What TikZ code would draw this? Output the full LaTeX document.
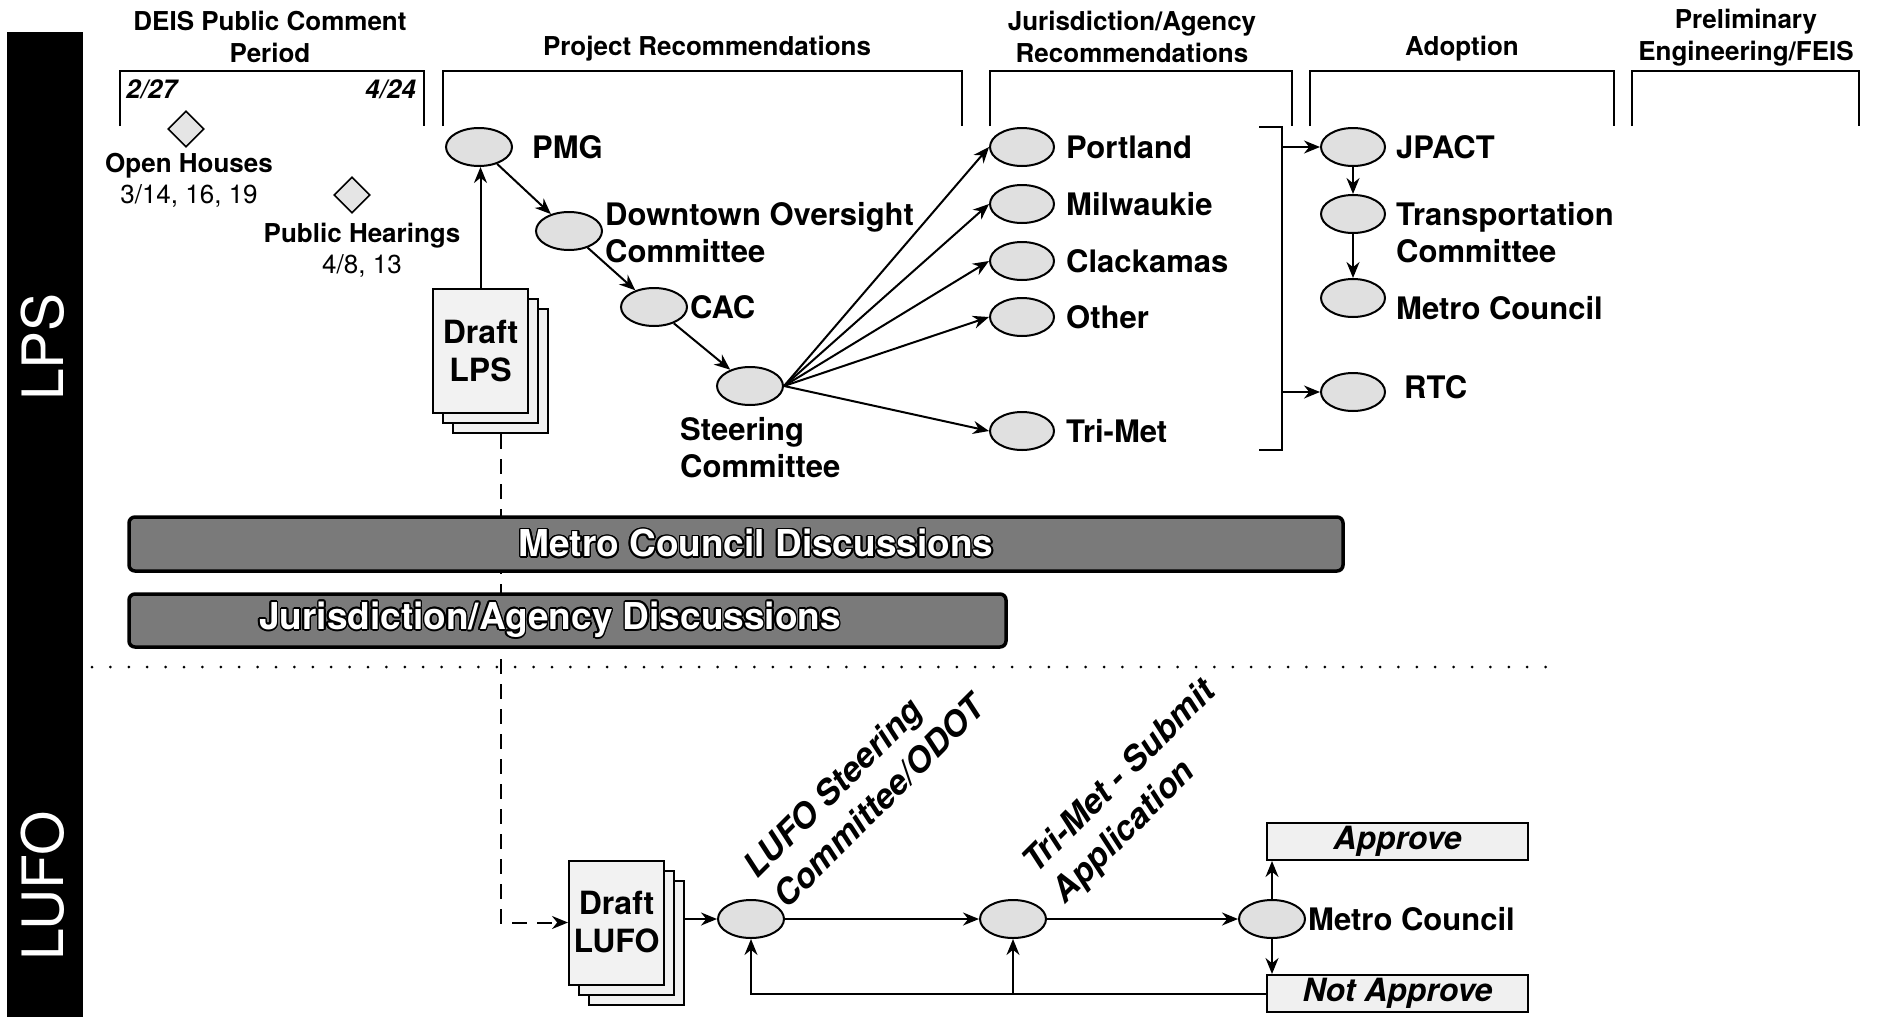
\documentclass[tikz,border=0pt]{standalone}
\usepackage{fontspec}
\setmainfont{TeX Gyre Heros}
\usepackage{contour}
\contourlength{1.6pt}
\usetikzlibrary{arrows.meta,shapes.geometric,calc}

\begin{document}
\begin{tikzpicture}[x=1pt,y=-1pt,
  lbl/.style={font=\fontsize{31}{37}\selectfont\bfseries, inner sep=0, align=left, anchor=west},
  hdr/.style={font=\fontsize{26}{32}\selectfont\bfseries, inner sep=0, align=center},
  slant/.style={font=\fontsize{34}{42}\selectfont\bfseries\itshape, inner sep=0, align=left, rotate=45, anchor=south west},
  oval/.style={ellipse, draw, line width=2pt, fill=black!12, minimum width=66, minimum height=38, inner sep=0},
  arr/.style={line width=2pt, -{Stealth[length=16pt,width=13pt]}},
  bracket/.style={line width=2pt},
  page/.style={rectangle, draw, line width=2pt, fill=black!5, minimum width=95, minimum height=124, inner sep=0},
  bar/.style={draw, line width=3.5pt, rounded corners=6pt, fill=black!52, inner sep=0},
  bartext/.style={font=\fontsize{37}{37}\selectfont\bfseries, inner sep=0, text=white},
  evt/.style={diamond, draw, line width=1.6pt, fill=black!10, minimum width=36, minimum height=36, inner sep=0},
  verdict/.style={rectangle, draw, line width=2pt, fill=black!6, minimum width=261, minimum height=37, inner sep=0, font=\fontsize{32}{32}\selectfont\bfseries\itshape},
  bandtext/.style={rotate=90, text=white, inner sep=0, font=\fontsize{57}{57}\selectfont}
]
\fill[white] (0,0) rectangle (1878,1017);
\useasboundingbox (0,0) rectangle (1878,1017);

% side band
\fill[black] (7,32) rectangle (83,1017);
\node[bandtext] (lpsband) at (43,347) {LPS};
\node[bandtext] (lufoband) at (43,886) {LUFO};

% phase headers and brackets
\node[hdr] (h1) at (270,37) {DEIS Public Comment\\Period};
\node[hdr] (h2) at (707,49) {Project Recommendations};
\node[hdr] (h3) at (1132,37) {Jurisdiction/Agency\\Recommendations};
\node[hdr] (h4) at (1462,49) {Adoption};
\node[hdr] (h5) at (1746,38) {Preliminary\\Engineering/FEIS};
\draw[bracket] (120,126) -- (120,71) -- (424,71) -- (424,126);
\draw[bracket] (443,126) -- (443,71) -- (962,71) -- (962,126);
\draw[bracket] (990,126) -- (990,71) -- (1292,71) -- (1292,126);
\draw[bracket] (1310,126) -- (1310,71) -- (1614,71) -- (1614,126);
\draw[bracket] (1632,126) -- (1632,71) -- (1859,71) -- (1859,126);
\node[font=\fontsize{26}{26}\selectfont\bfseries\itshape, inner sep=0, anchor=west] (dstart) at (126,89) {2/27};
\node[font=\fontsize{26}{26}\selectfont\bfseries\itshape, inner sep=0, anchor=east] (dend) at (416,89) {4/24};

% public events
\node[evt] (open) at (186,129) {};
\node[evt] (hear) at (352,195) {};
\node[hdr, font=\fontsize{26}{31}\selectfont] (openlbl) at (189,180) {\textbf{Open Houses}\\3/14, 16, 19};
\node[hdr, font=\fontsize{26}{31}\selectfont] (hearlbl) at (362,250) {\textbf{Public Hearings}\\4/8, 13};

% draft LPS document stack
\node[page] (lpsb2) at (500.5,371) {};
\node[page] (lpsb1) at (490.5,361) {};
\node[page, font=\fontsize{32}{38}\selectfont\bfseries, align=center] (lpsf) at (480.5,351) {Draft\\LPS};

% project recommendation chain
\node[oval] (pmg) at (479,147) {};
\node[oval] (dtc) at (569,231) {};
\node[oval] (cac) at (654,307) {};
\node[oval] (stc) at (750,386) {};
\node[lbl] at (532,147) {PMG};
\node[lbl] at (605,233) {Downtown Oversight\\Committee};
\node[lbl] at (690,307) {CAC};
\node[lbl] at (680,448) {Steering\\Committee};

% jurisdictions
\node[oval, minimum width=64] (por) at (1022,147) {};
\node[oval, minimum width=64] (mil) at (1022,204) {};
\node[oval, minimum width=64] (cla) at (1022,261) {};
\node[oval, minimum width=64] (oth) at (1022,317) {};
\node[oval, minimum width=64] (tri) at (1022,431) {};
\node[lbl] at (1066,147) {Portland};
\node[lbl] at (1066,204) {Milwaukie};
\node[lbl] at (1066,261) {Clackamas};
\node[lbl] at (1066,317) {Other};
\node[lbl] at (1066,431) {Tri-Met};

% adoption
\node[oval, minimum width=64] (jpa) at (1353,147) {};
\node[oval, minimum width=64] (tco) at (1353,214) {};
\node[oval, minimum width=64] (mco) at (1353,298) {};
\node[oval, minimum width=64] (rtc) at (1353,392) {};
\node[lbl] at (1396,147) {JPACT};
\node[lbl] at (1396,233) {Transportation\\Committee};
\node[lbl] at (1396,308) {Metro Council};
\node[lbl] at (1404,387) {RTC};

% connectors, LPS
\draw[arr] (lpsf.north) -- (lpsf.north |- pmg.south);
\draw[arr] (pmg) -- (dtc);
\draw[arr] (dtc) -- (cac);
\draw[arr] (cac) -- (stc);
\foreach \j in {por,mil,cla,oth,tri} \draw[arr] (stc.east) -- (\j.west);
\draw[bracket] (1259,127) -- (1282,127) -- (1282,450) -- (1259,450);
\coordinate (bj) at (1282,147);
\coordinate (br) at (1282,392);
\draw[arr] (bj) -- (jpa.west);
\draw[arr] (br) -- (rtc.west);
\draw[arr] (jpa) -- (tco);
\draw[arr] (tco) -- (mco);

% draft LUFO document stack
\node[page] (lufob2) at (636.5,942.5) {};
\node[page] (lufob1) at (626.5,932.5) {};
\node[page, font=\fontsize{32}{38}\selectfont\bfseries, align=center] (lufof) at (616.5,922.5) {Draft\\LUFO};

% dashed hand-off from LPS to LUFO (under the bars)
\draw[line width=2pt, dash pattern=on 15pt off 10pt, -{Stealth[length=16pt,width=13pt]}] (lpsb2.south) |- (lufof.west);

% discussion bars
\node[bar, minimum width=1214, minimum height=54] (mcbar) at (736,544) {};
\node[bartext] (mctext) at (756,544) {\contour{black}{Metro Council Discussions}};
\node[bar, minimum width=877, minimum height=53] (jabar) at (567.5,620.5) {};
\node[bartext] (jatext) at (550,620.5) {\contour{black}{Jurisdiction/Agency Discussions}};

% separator
\draw[line width=3pt, line cap=round, dash pattern=on 0pt off 18.4pt] (92,667) -- (1563,667);

% LUFO chain
\node[oval] (e1) at (751,919) {};
\node[oval] (e2) at (1013,919) {};
\node[oval] (e3) at (1272,919) {};
\node[slant] (lufolbl) at (788,910) {LUFO Steering\\Committee/ODOT};
\node[slant] (trilbl) at (1071,910) {Tri-Met - Submit\\Application};
\node[lbl] at (1308,919) {Metro Council};
\node[verdict] (app) at (1397.5,841.5) {Approve};
\node[verdict] (napp) at (1397.5,993.5) {Not Approve};

\draw[arr] (lufob2.east |- e1.west) -- (e1.west);
\draw[arr] (e1) -- (e2);
\draw[arr] (e2) -- (e3);
\draw[arr] (e3.north) -- (e3.north |- app.south);
\draw[arr] (e3.south) -- (e3.south |- napp.north);
\draw[arr] (napp.west) -| (e1.south);
\draw[arr] (e2.south |- napp.west) -- (e2.south);
\end{tikzpicture}
\end{document}
